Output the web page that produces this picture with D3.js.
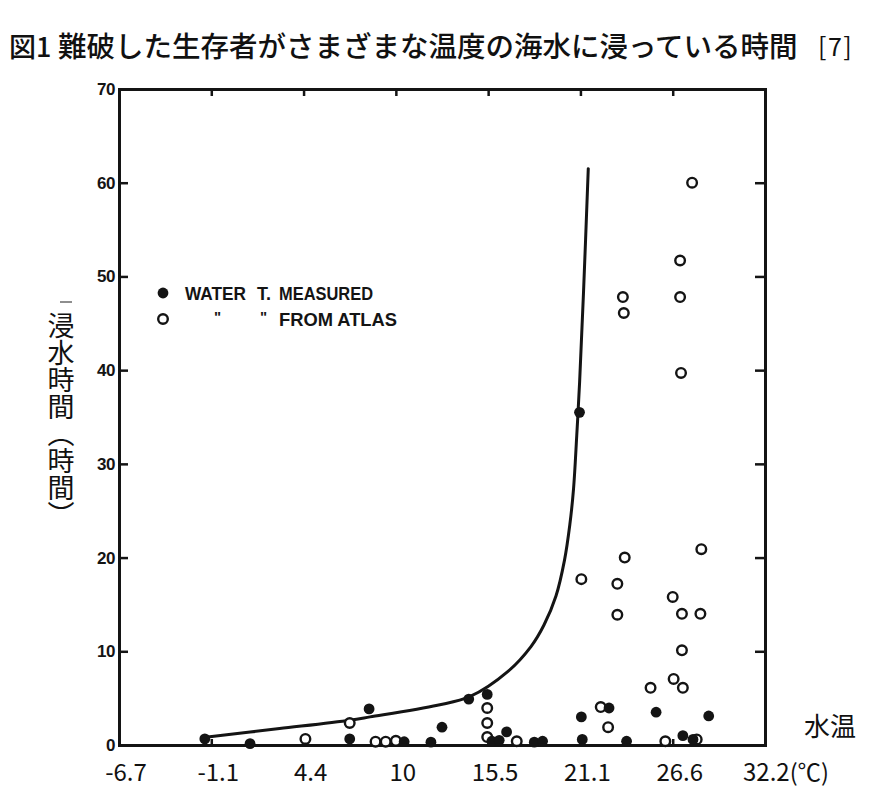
<!DOCTYPE html>
<html>
<head>
<meta charset="utf-8">
<script src="https://cdn.jsdelivr.net/npm/d3@7"></script>
<style>
  body { margin: 0; background: #fff; }
  svg { display: block; }
</style>
</head>
<body>
<div id="chart"></div>
<script>
// x axis is linear in deg F (20..90), labelled in deg C
const tempF = [20, 30, 40, 50, 60, 70, 80, 90];
const tempLabels = ["-6.7", "-1.1", "4.4", "10", "15.5", "21.1", "26.6", "32.2"];
const tempUnit = "(℃)";
const hourTicks = [0, 10, 20, 30, 40, 50, 60, 70];

// [temp F, hours] - filled dots, water temp measured
const measured = [
  [29.3, 0.65], [34.2, 0.15], [45.0, 0.65], [47.1, 3.85], [50.9, 0.35],
  [53.8, 0.3], [55.0, 1.9], [57.9, 4.9], [59.9, 5.4], [60.4, 0.4],
  [61.2, 0.5], [62.0, 1.4], [65.0, 0.3], [65.9, 0.4], [69.9, 35.5],
  [70.1, 3.0], [70.2, 0.6], [73.1, 3.95], [75.0, 0.4], [78.2, 3.5],
  [81.1, 1.0], [82.2, 0.6], [83.9, 3.1]
];

// [temp F, hours] - open circles, water temp from atlas
const atlas = [
  [40.2, 0.65], [45.0, 2.35], [47.8, 0.35], [48.9, 0.35], [50.0, 0.45],
  [59.9, 3.95], [59.9, 2.35], [59.9, 0.85], [63.1, 0.4], [72.2, 4.05],
  [73.0, 1.9], [77.6, 6.1], [79.2, 0.4], [80.1, 7.05], [81.1, 6.1],
  [82.6, 0.6], [81.0, 10.1], [70.1, 17.7], [74.8, 20.0], [74.0, 17.2],
  [74.0, 13.9], [80.0, 15.8], [81.0, 14.0], [83.0, 14.0], [83.1, 20.9],
  [82.1, 60.0], [80.8, 51.7], [80.8, 47.8], [74.6, 47.8], [74.7, 46.1],
  [80.9, 39.7]
];

// survival curve
const curve = [
  [29.6, 0.85], [37.4, 1.75], [45.0, 2.65], [47.2, 3.0], [54.5, 4.25],
  [58.0, 5.15], [62.15, 7.85], [64.64, 10.5], [66.05, 12.8], [67.35, 15.9],
  [68.27, 19.7], [68.85, 23.5], [69.25, 27.3], [69.6, 33.0], [69.91, 38.7],
  [70.33, 48.2], [70.85, 61.5]
];

const width = 882, height = 788;
const ink = "#141414";
const cjk = "'Noto Sans CJK JP', 'Noto Sans', sans-serif";
const bold = "'Liberation Sans', Arial, sans-serif";

const svg = d3.select("#chart")
  .append("svg")
  .attr("width", width)
  .attr("height", height);

const x = d3.scaleLinear().domain([20, 90]).range([119, 765]);
const y = d3.scaleLinear().domain([0, 70]).range([745, 89]);

// title
const title = svg.append("g")
  .attr("font-family", cjk)
  .attr("font-weight", 500)
  .attr("fill", "#111");
title.append("text").attr("x", 9).attr("y", 57).attr("font-size", 27).text("図1");
title.append("text").attr("x", 58).attr("y", 57).attr("font-size", 28.5)
  .text("難破した生存者がさまざまな温度の海水に浸っている時間");
title.append("text").attr("x", 818).attr("y", 56).attr("font-size", 25)
  .attr("font-weight", 400).attr("letter-spacing", 1.5).text("[7]");

// axes, ticks pointing inward on all four sides
const styleAxis = (g) => {
  g.select(".domain").attr("stroke", ink).attr("stroke-width", 3).attr("stroke-linecap", "square");
  g.selectAll(".tick line").attr("stroke", ink).attr("stroke-width", 2.5);
};

svg.append("g")
  .attr("transform", `translate(0,${y(0)})`)
  .call(d3.axisBottom(x).tickValues(tempF).tickSize(-6).tickSizeOuter(0).tickFormat(""))
  .call(styleAxis);

svg.append("g")
  .attr("transform", `translate(0,${y(70)})`)
  .call(d3.axisTop(x).tickValues(tempF).tickSize(-7).tickSizeOuter(0).tickFormat(""))
  .call(styleAxis);

svg.append("g")
  .attr("transform", `translate(${x(90)},0)`)
  .call(d3.axisRight(y).tickValues(hourTicks).tickSize(-10).tickSizeOuter(0).tickFormat(""))
  .call(styleAxis);

svg.append("g")
  .attr("transform", `translate(${x(20)},0)`)
  .call(d3.axisLeft(y).tickValues(hourTicks).tickSize(-9).tickSizeOuter(0).tickPadding(4))
  .call(styleAxis)
  .call((g) => g.selectAll(".tick text")
    .attr("fill", ink)
    .attr("font-family", bold)
    .attr("font-weight", "bold")
    .attr("font-size", 17)
    .attr("letter-spacing", -0.5));

// x tick labels in deg C
const last = tempF.length - 1;
const xLabels = svg.append("g")
  .selectAll("text")
  .data(tempF)
  .enter()
  .append("text")
  .attr("x", (d, i) => (i === last ? x(d) - 22 : x(d) + 7))
  .attr("y", 781)
  .attr("text-anchor", (d, i) => (i === last ? "start" : "middle"))
  .attr("font-family", cjk)
  .attr("font-size", 24)
  .attr("fill", "#111")
  .text((d, i) => tempLabels[i]);

xLabels.filter((d, i) => i === last)
  .append("tspan")
  .attr("font-size", 23.5)
  .text(tempUnit);

// axis titles
svg.append("text")
  .attr("x", 830)
  .attr("y", 736)
  .attr("text-anchor", "middle")
  .attr("font-family", cjk)
  .attr("font-size", 26)
  .attr("fill", "#111")
  .text("水温");

svg.append("text")
  .attr("x", 61)
  .attr("y", 312)
  .attr("font-family", cjk)
  .attr("font-size", 27)
  .attr("fill", "#111")
  .style("writing-mode", "vertical-rl")
  .text("浸水時間（時間）");

svg.append("line")
  .attr("x1", 60).attr("x2", 72)
  .attr("y1", 302).attr("y2", 302)
  .attr("stroke", "#444")
  .attr("stroke-width", 1.2);

// curve
const line = d3.line()
  .x((d) => x(d[0]))
  .y((d) => y(d[1]))
  .curve(d3.curveCatmullRom.alpha(0.5));

svg.append("path")
  .attr("d", line(curve))
  .attr("fill", "none")
  .attr("stroke", ink)
  .attr("stroke-width", 3)
  .attr("stroke-linecap", "round");

// points
svg.append("g")
  .selectAll("circle")
  .data(atlas)
  .enter()
  .append("circle")
  .attr("cx", (d) => x(d[0]))
  .attr("cy", (d) => y(d[1]))
  .attr("r", 4.8)
  .attr("fill", "#fff")
  .attr("stroke", ink)
  .attr("stroke-width", 2.4);

svg.append("g")
  .selectAll("circle")
  .data(measured)
  .enter()
  .append("circle")
  .attr("cx", (d) => x(d[0]))
  .attr("cy", (d) => y(d[1]))
  .attr("r", 5.4)
  .attr("fill", ink);

// legend
const legend = svg.append("g").attr("font-family", bold).attr("font-weight", "bold").attr("font-size", 18).attr("fill", ink);
legend.append("circle").attr("cx", 163).attr("cy", 293).attr("r", 5.4).attr("fill", ink);
legend.append("circle").attr("cx", 163).attr("cy", 319).attr("r", 4.8)
  .attr("fill", "#fff").attr("stroke", ink).attr("stroke-width", 2.4);
legend.append("text").attr("x", 185).attr("y", 299.5)
  .attr("textLength", 61).attr("lengthAdjust", "spacingAndGlyphs").text("WATER");
legend.append("text").attr("x", 257).attr("y", 299.5).text("T.");
legend.append("text").attr("x", 279).attr("y", 299.5)
  .attr("textLength", 94).attr("lengthAdjust", "spacingAndGlyphs").text("MEASURED");
legend.append("text").attr("x", 214).attr("y", 322).attr("font-size", 15).text("\"");
legend.append("text").attr("x", 260).attr("y", 322).attr("font-size", 15).text("\"");
legend.append("text").attr("x", 279).attr("y", 325.5)
  .attr("textLength", 118).attr("lengthAdjust", "spacingAndGlyphs").text("FROM ATLAS");
</script>
</body>
</html>
